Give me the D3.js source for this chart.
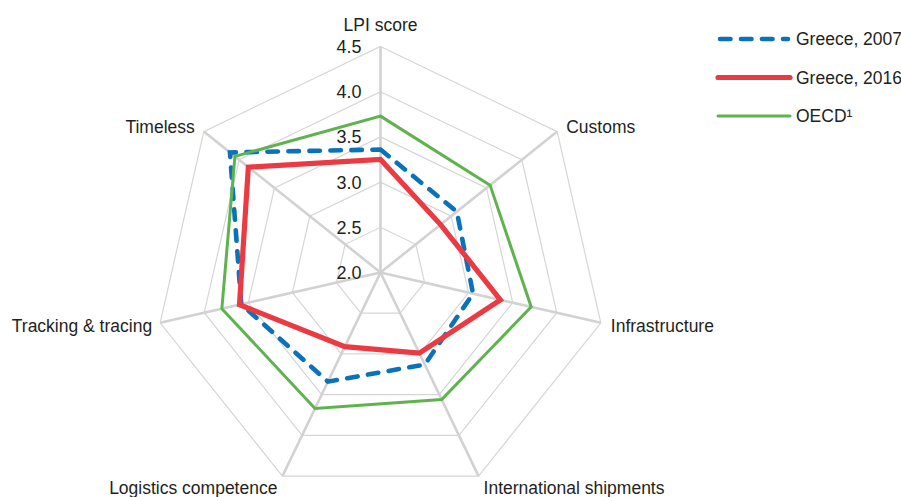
<!DOCTYPE html>
<html>
<head>
<meta charset="utf-8">
<script src="https://cdn.jsdelivr.net/npm/d3@7"></script>
<style>
  html, body { margin: 0; padding: 0; background: #fff; }
  svg { display: block; }
  text { font-family: "Liberation Sans", Arial, sans-serif; fill: #231f20; }
</style>
</head>
<body>
<svg id="chart" width="901" height="497"></svg>
<script>
const axes = ["LPI score", "Customs", "Infrastructure", "International shipments",
              "Logistics competence", "Tracking & tracing", "Timeless"];
const greece2007 = [3.36, 3.08, 3.05, 3.13, 3.34, 3.58, 4.13];
const greece2016 = [3.25, 2.85, 3.36, 2.99, 2.91, 3.60, 3.87];
const oecd       = [3.73, 3.55, 3.71, 3.56, 3.67, 3.80, 4.06];
const tickValues = [2.0, 2.5, 3.0, 3.5, 4.0, 4.5];
const seriesNames = ["Greece, 2007", "Greece, 2016", "OECD\u00B9"];

const svg = d3.select("#chart");
const cx = 380.5, cy = 272.5, R = 226;
const r = d3.scaleLinear().domain([2.0, 4.5]).range([0, R]);
const angle = d3.scalePoint().domain(axes).range([0, 2 * Math.PI * (axes.length) / axes.length]).padding(0);
const step = 2 * Math.PI / axes.length;
const ang = i => i * step;
const pt = (i, v) => [cx + r(v) * Math.sin(ang(i)), cy - r(v) * Math.cos(ang(i))];

const g = svg.append("g");

// gridlines (heptagons)
tickValues.slice(1).forEach(t => {
  g.append("polygon")
    .attr("points", axes.map((a, i) => pt(i, t).join(",")).join(" "))
    .attr("fill", "none").attr("stroke", "#d6d6d6").attr("stroke-width", 1.2);
});
// spokes
axes.forEach((a, i) => {
  const [x, y] = pt(i, 4.5);
  g.append("line").attr("x1", cx).attr("y1", cy).attr("x2", x).attr("y2", y)
    .attr("stroke", "#d2d2d2").attr("stroke-width", 2.6);
});

// tick labels
tickValues.forEach(t => {
  g.append("text").attr("x", cx - 19).attr("y", cy - r(t)).attr("dy", "0.36em")
    .attr("text-anchor", "end").attr("font-size", 18).text(t.toFixed(1));
});

// axis labels
const labelPos = [
  {dx: 0, dy: -22, anchor: "middle"},
  {dx: 9, dy: -5, anchor: "start"},
  {dx: 10, dy: 3, anchor: "start"},
  {dx: 5, dy: 12, anchor: "start"},
  {dx: -5, dy: 12, anchor: "end"},
  {dx: -8, dy: 3, anchor: "end"},
  {dx: -9, dy: -5, anchor: "end"}
];
axes.forEach((a, i) => {
  const [x, y] = pt(i, 4.5);
  const p = labelPos[i];
  g.append("text").attr("x", x + p.dx).attr("y", y + p.dy).attr("dy", "0.36em")
    .attr("text-anchor", p.anchor).attr("font-size", 17.5).text(a);
});

const line = d3.line().curve(d3.curveLinearClosed);
const series = [
  {name: seriesNames[0], values: greece2007, color: "#0a72ba", width: 4.6, dash: "10.5,10.5", cap: "round"},
  {name: seriesNames[1], values: greece2016, color: "#ec3a43", width: 5.2, dash: null, cap: "butt"},
  {name: seriesNames[2], values: oecd, color: "#5fb34f", width: 3, dash: null, cap: "butt"}
];
series.forEach(s => {
  g.append("path")
    .attr("d", line(s.values.map((v, i) => pt(i, v))))
    .attr("fill", "none").attr("stroke", s.color).attr("stroke-width", s.width)
    .attr("stroke-dasharray", s.dash).attr("stroke-linecap", s.cap)
    .attr("stroke-linejoin", "miter");
});

// legend
const leg = svg.append("g");
const legY = d3.scalePoint().domain(seriesNames).range([39, 116]);
series.forEach(s => {
  const y = legY(s.name);
  leg.append("line").attr("x1", s.dash ? 720 : 718).attr("x2", s.dash ? 788 : 790)
    .attr("y1", y).attr("y2", y)
    .attr("stroke", s.color).attr("stroke-width", s.width)
    .attr("stroke-dasharray", s.dash).attr("stroke-linecap", s.dash ? "round" : "round");
  leg.append("text").attr("x", 796).attr("y", y).attr("dy", "0.36em")
    .attr("font-size", 17.5).text(s.name);
});
</script>
</body>
</html>
